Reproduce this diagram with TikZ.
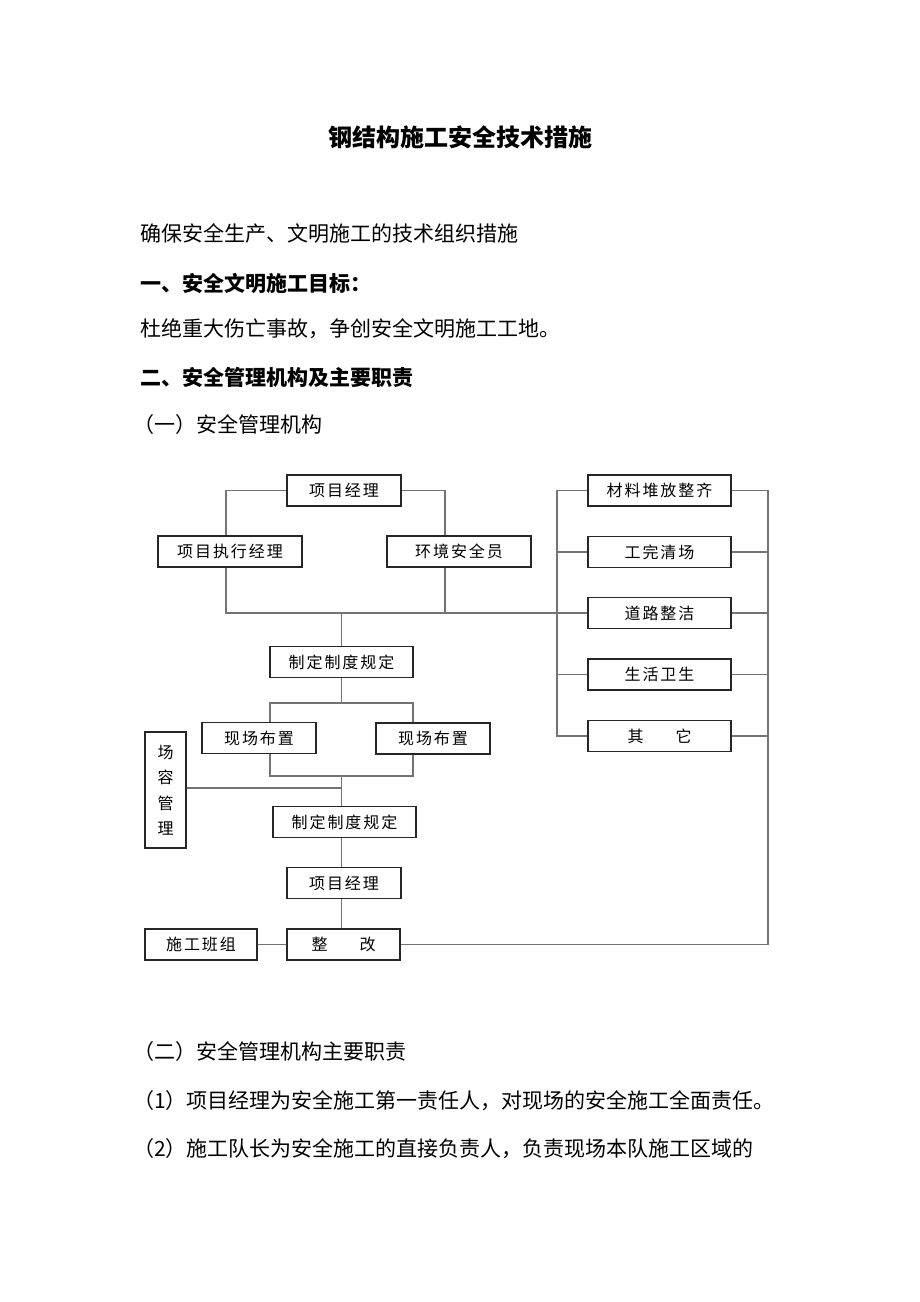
\documentclass[tikz,border=0pt]{standalone}
\usepackage{fontspec}
\setmainfont{Noto Sans CJK SC}
\newfontfamily\boxfont[LetterSpace=12]{Noto Sans CJK SC}
\usetikzlibrary{calc}
\begin{document}
\begin{tikzpicture}[x=1pt,y=-1pt,
  bx/.style={draw=black!85, line width=1.3pt, inner sep=0pt, minimum height=31pt, fill=white,
     font=\boxfont\fontsize{16}{16}\selectfont},
  ln/.style={draw=black!55, line width=1.5pt},
  txt/.style={anchor=west, inner sep=0pt, font=\fontsize{21}{21}\selectfont},
  hd/.style={anchor=west, inner sep=0pt, font=\bfseries\fontsize{21}{21}\selectfont}]
\fill[white] (0,0) rectangle (920,1302);
\useasboundingbox (0,0) rectangle (920,1302);

% texts
\node[inner sep=0pt, font=\bfseries\fontsize{24}{24}\selectfont] (title) at (460,137) {钢结构施工安全技术措施};
\node[txt] (t1) at (140,233) {确保安全生产、文明施工的技术组织措施};
\node[hd]  (h1) at (140,283) {一、安全文明施工目标：};
\node[txt] (t2) at (140,329) {杜绝重大伤亡事故，争创安全文明施工工地。};
\node[hd]  (h2) at (140,377) {二、安全管理机构及主要职责};
\node[txt] (t3) at (133,425) {（一）安全管理机构};
\node[txt] (t4) at (133,1052) {（二）安全管理机构主要职责};
\node[txt] (t5) at (133,1101) {（1）项目经理为安全施工第一责任人，对现场的安全施工全面责任。};
\node[txt] (t6) at (133,1149) {（2）施工队长为安全施工的直接负责人，负责现场本队施工区域的};

% coordinates
\coordinate (rl) at (557,490);
\coordinate (rr) at (768,490);
\coordinate (b1) at (341.5,703);
\coordinate (b2) at (341.5,776);
\coordinate (b3) at (341.5,788);

% boxes
\node[bx, minimum width=114pt] (pm) at (344,490.5) {项目经理};
\node[bx, minimum width=144pt] (exec) at (230,551.5) {项目执行经理};
\node[bx, minimum width=144pt] (env) at (459,551.5) {环境安全员};
\node[bx, minimum width=143pt] (rule1) at (341.5,662) {制定制度规定};
\node[bx, minimum width=114pt] (site1) at (259,738) {现场布置};
\node[bx, minimum width=114pt] (site2) at (433,738.5) {现场布置};
\node[bx, minimum width=41pt, minimum height=116pt, align=center,
      font=\boxfont\fontsize{16}{25.5}\selectfont] (yard) at (165.5,790) {场\\容\\管\\理};
\node[bx, minimum width=143pt] (rule2) at (344.5,822) {制定制度规定};
\node[bx, minimum width=114pt] (pm2) at (344,883) {项目经理};
\node[bx, minimum width=113pt] (fix) at (343.5,944.5) {整\hspace{2em}改};
\node[bx, minimum width=112pt] (team) at (201,944.5) {施工班组};

\node[bx, minimum width=143pt] (m1) at (659.5,490.5) {材料堆放整齐};
\node[bx, minimum width=143pt] (m2) at (659.5,552) {工完清场};
\node[bx, minimum width=143pt] (m3) at (659.5,613) {道路整洁};
\node[bx, minimum width=143pt] (m4) at (659.5,674.5) {生活卫生};
\node[bx, minimum width=143pt] (m5) at (659.5,736) {其\hspace{2em}它};

% connectors
\draw[ln] (pm.west) -| ([xshift=-4pt]exec.north);
\draw[ln] (pm.east) -| ([xshift=-14pt]env.north);
\draw[ln] ([xshift=-4pt]exec.south) |- (m3.west);
\draw[ln] ([xshift=-14pt]env.south) -- ([xshift=-14pt]env.south |- m3.west);
\draw[ln] (rule1.north) -- (rule1.north |- m3.west);
\draw[ln] (rule1.south) -- (b1);
\draw[ln] ([xshift=11pt]site1.north) |- (b1) -| ([xshift=-20pt]site2.north);
\draw[ln] ([xshift=11pt]site1.south) |- (b2) -| ([xshift=-20pt]site2.south);
\draw[ln] (b2) -- (b2 |- rule2.north);
\draw[ln] (b3 -| yard.east) -- (b3);
\draw[ln] (b2 |- rule2.south) -- (b2 |- pm2.north);
\draw[ln] (b2 |- pm2.south) -- (b2 |- fix.north);
\draw[ln] (team.east) -- (fix.west);

\draw[ln] (m1.west) -- (m1.west -| rl) -- (m5.west -| rl) -- (m5.west);
\draw[ln] (m2.west -| rl) -- (m2.west);
\draw[ln] (m4.west -| rl) -- (m4.west);
\draw[ln] (m1.east) -- (m1.east -| rr) -- (fix.east -| rr) -- (fix.east);
\draw[ln] (m2.east) -- (m2.east -| rr);
\draw[ln] (m3.east) -- (m3.east -| rr);
\draw[ln] (m4.east) -- (m4.east -| rr);
\draw[ln] (m5.east) -- (m5.east -| rr);
\end{tikzpicture}
\end{document}
